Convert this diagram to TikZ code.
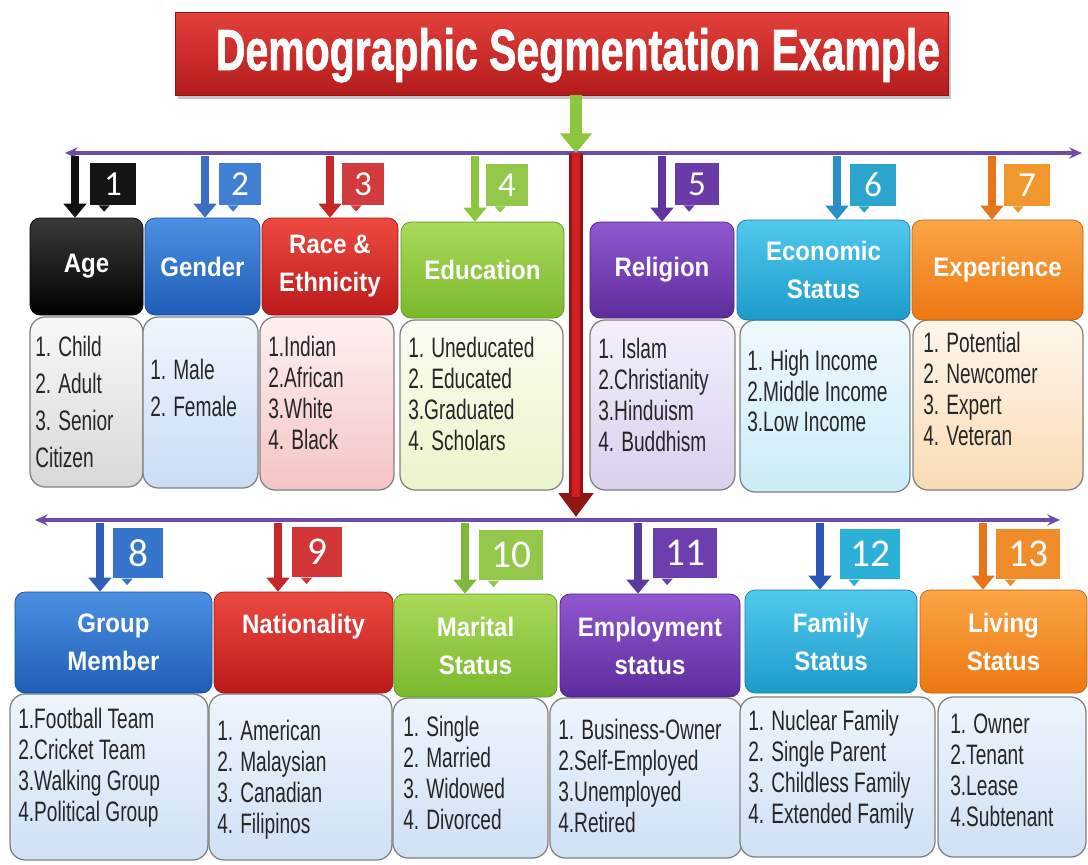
\documentclass[tikz,border=0pt]{standalone}
\usepackage{fontspec}
\usepackage{graphicx}
\setmainfont{Liberation Sans}
\newfontfamily\hdrfont{Liberation Sans}[FakeStretch=0.9]
\newfontfamily\listfont{Liberation Sans}[FakeStretch=0.68]
\newfontfamily\ttlfont{Liberation Sans}[BoldFeatures={FakeBold=1.5}]
\newfontfamily\tagfont{Carlito}
\usetikzlibrary{arrows.meta,shadows}
% title & connectors
\definecolor{ttlA}{HTML}{E4403A}\definecolor{ttlB}{HTML}{B31B1B}
\definecolor{plc}{HTML}{6E4DAA}
\definecolor{redarr}{HTML}{D21F1F}\definecolor{grnarr}{HTML}{8CC63F}
% header colours
\definecolor{blkT}{HTML}{3A3A3A}\definecolor{blkB}{HTML}{000000}
\definecolor{bluT}{HTML}{4B90E2}\definecolor{bluB}{HTML}{1F5DB8}
\definecolor{redT}{HTML}{EC4A40}\definecolor{redB}{HTML}{BC1A1A}
\definecolor{grnT}{HTML}{A9D95A}\definecolor{grnB}{HTML}{7AB92C}
\definecolor{purT}{HTML}{9058CF}\definecolor{purB}{HTML}{5D2C9C}
\definecolor{cynT}{HTML}{52C9EE}\definecolor{cynB}{HTML}{1C9BCB}
\definecolor{orgT}{HTML}{FBA546}\definecolor{orgB}{HTML}{EC7812}
% list colours
\definecolor{lgyT}{HTML}{F8F8F8}\definecolor{lgyB}{HTML}{D8D8D8}
\definecolor{lbuT}{HTML}{F0F6FD}\definecolor{lbuB}{HTML}{C9DDF5}
\definecolor{lrdT}{HTML}{FDF0F0}\definecolor{lrdB}{HTML}{F5C4C4}
\definecolor{lgnT}{HTML}{FBFDF0}\definecolor{lgnB}{HTML}{EBF4CA}
\definecolor{lpuT}{HTML}{F3EFFA}\definecolor{lpuB}{HTML}{DBCFEE}
\definecolor{lcyT}{HTML}{EFF9FD}\definecolor{lcyB}{HTML}{CBECF8}
\definecolor{lorT}{HTML}{FEF6EC}\definecolor{lorB}{HTML}{F9DBB4}
\definecolor{lbT}{HTML}{EEF5FC}\definecolor{lbB}{HTML}{CFE1F5}
% tag colours
\definecolor{tgA}{HTML}{141414}\definecolor{tgB}{HTML}{3F80D4}
\definecolor{tgC}{HTML}{D23B3B}\definecolor{tgD}{HTML}{93C84A}
\definecolor{tgE}{HTML}{6A3BA8}\definecolor{tgF}{HTML}{2BA5CE}
\definecolor{tgG}{HTML}{F0972E}\definecolor{tgH}{HTML}{3576CC}
\definecolor{tgI}{HTML}{D13535}\definecolor{tgK}{HTML}{6D3EAE}
\definecolor{tgL}{HTML}{2CB0D8}\definecolor{tgM}{HTML}{F08C2A}
% arrow colours
\definecolor{arA}{HTML}{111111}\definecolor{arB}{HTML}{3A6FC4}
\definecolor{arC}{HTML}{C62828}\definecolor{arD}{HTML}{8CC63F}
\definecolor{arE}{HTML}{5E35A0}\definecolor{arF}{HTML}{2A8FC8}
\definecolor{arG}{HTML}{E8731A}\definecolor{arH}{HTML}{2F5FB8}
\definecolor{arK}{HTML}{5B3A9E}\definecolor{arL}{HTML}{2A57B8}
\definecolor{arJ}{HTML}{7FB83A}

\newcommand\tagbox[6]{%
  \node[#4, fill=#2, minimum width=#5] (#1) at #3 {#6};
  \fill[#2] ([xshift=0.22cm]#1.south west) -- ++(0.14cm,-0.16cm) -- ++(0.14cm,0.16cm) -- cycle;}

\begin{document}
\begin{tikzpicture}[x=0.025cm, y=-0.025cm,
  box/.style n args={4}{minimum width={(#3-#1)*0.025cm}, minimum height={(#4-#2)*0.025cm},
     at={({(#1+#3)/2},{(#2+#4)/2})}},
  hdr/.style 2 args={inner sep=0pt, rounded corners=0.25cm, top color=#1, bottom color=#2,
     draw=#2!80!black, line width=0.5pt, align=center, text=white,
     font=\hdrfont\bfseries\fontsize{19}{27}\selectfont},
  lst/.style 2 args={inner sep=0pt, rounded corners=0.38cm, top color=#1, bottom color=#2,
     draw=black!50, line width=0.9pt},
  lt/.style={inner sep=0pt, anchor=west, align=left, text=black!85,
     font=\listfont\fontsize{20}{22}\selectfont},
  ltw/.style={lt, font=\listfont\fontsize{20}{26.3}\selectfont},
  ttop/.style={inner sep=0pt, text=white, minimum height=1.05cm,
     font=\tagfont\fontsize{25}{25}\selectfont},
  tbot/.style={inner sep=0pt, text=white, minimum height=1.27cm,
     font=\tagfont\fontsize{28}{28}\selectfont},
  sarr/.style={draw=#1, line width=6pt, -{Triangle[width=16pt,length=10pt]}},
  pline/.style={draw=plc, line width=2.2pt,
     {Stealth[length=9pt,width=8pt]}-{Stealth[length=9pt,width=8pt]}}
]
\useasboundingbox (0,0) rectangle (1088,864);
\fill[white] (0,0) rectangle (1088,864);

% ---------- title ----------
\node[box={175}{12}{948}{95}, inner sep=0pt, top color=ttlA, bottom color=ttlB,
      draw=ttlB!80!black, line width=0.6pt,
      drop shadow={shadow xshift=2pt, shadow yshift=-3pt, opacity=0.45}] (title) {};
\node[anchor=base, inner sep=0pt, text=white] (titletext) at (578,70)
  {\resizebox{18.1cm}{1.05cm}{\ttlfont\bfseries Demographic Segmentation Example}};

% ---------- hubs and main lines ----------
\coordinate (hubT) at (576,153);
\coordinate (hubB) at (576,517);
\coordinate (lineTL) at (65,153);
\coordinate (lineTR) at (1082,153);
\coordinate (lineBL) at (35,520);
\coordinate (lineBR) at (1060,520);
\draw[pline] (lineTL) -- (lineTR);
\draw[pline] (lineBL) -- (lineBR);
\draw[draw=redarr!70!black, line width=9.5pt, -{Triangle[width=24pt,length=17pt]}] (hubT) -- (hubB);
\draw[draw=redarr, line width=6pt] (hubT) -- ([yshift=0.5cm]hubB);
\draw[draw=grnarr, line width=9pt, -{Triangle[width=22pt,length=14pt]}] (title.south -| hubT) -- (hubT);

% ---------- top list boxes ----------
\node[lst={lgyT}{lgyB}, box={30}{317}{143}{487}] (ageL) {};
\node[lst={lbuT}{lbuB}, box={143}{317}{258}{488}] (genL) {};
\node[lst={lrdT}{lrdB}, box={260}{317}{394}{490}] (racL) {};
\node[lst={lgnT}{lgnB}, box={400}{320}{563}{490}] (eduL) {};
\node[lst={lpuT}{lpuB}, box={590}{320}{735}{490}] (relL) {};
\node[lst={lcyT}{lcyB}, box={740}{320}{910}{492}] (ecoL) {};
\node[lst={lorT}{lorB}, box={913}{320}{1083}{490}] (expL) {};

% ---------- top headers ----------
\node[hdr={blkT}{blkB}, box={30}{218}{143}{315}] (age) {Age};
\node[hdr={bluT}{bluB}, box={145}{218}{260}{315}] (gen) {Gender};
\node[hdr={redT}{redB}, box={262}{218}{398}{315}] (rac) {Race \&\\Ethnicity};
\node[hdr={grnT}{grnB}, box={401}{222}{564}{318}] (edu) {Education};
\node[hdr={purT}{purB}, box={590}{222}{734}{318}] (rel) {Religion};
\node[hdr={cynT}{cynB}, box={737}{220}{910}{320}] (eco) {Economic\\Status};
\node[hdr={orgT}{orgB}, box={912}{220}{1083}{320}] (exp) {Experience};

% ---------- top arrows ----------
\coordinate (a1) at (75,156);  \draw[sarr=arA] (a1) -- (a1 |- age.north);
\coordinate (a2) at (205,156); \draw[sarr=arB] (a2) -- (a2 |- gen.north);
\coordinate (a3) at (330,156); \draw[sarr=arC] (a3) -- (a3 |- rac.north);
\coordinate (a4) at (475,156); \draw[sarr=arD] (a4) -- (a4 |- edu.north);
\coordinate (a5) at (662,156); \draw[sarr=arE] (a5) -- (a5 |- rel.north);
\coordinate (a6) at (837,156); \draw[sarr=arF] (a6) -- (a6 |- eco.north);
\coordinate (a7) at (992,156); \draw[sarr=arG] (a7) -- (a7 |- exp.north);

% ---------- top tags ----------
\tagbox{t1}{tgA}{(113,184)}{ttop}{1.15cm}{1}
\tagbox{t2}{tgB}{(240,184)}{ttop}{1.05cm}{2}
\tagbox{t3}{tgC}{(363,184)}{ttop}{1.05cm}{3}
\tagbox{t4}{tgD}{(507,185)}{ttop}{1.05cm}{4}
\tagbox{t5}{tgE}{(697,184)}{ttop}{1.1cm}{5}
\tagbox{t6}{tgF}{(873,185)}{ttop}{1.15cm}{6}
\tagbox{t7}{tgG}{(1027,185)}{ttop}{1.15cm}{7}

% ---------- top list texts ----------
\node[ltw] (ageT) at (35,402) {1. Child\\2. Adult\\3. Senior\\Citizen};
\node[ltw] (genT) at (150,388) {1. Male\\2. Female};
\node[lt] (racT) at (268,393) {1.Indian\\2.African\\3.White\\4. Black};
\node[lt] (eduT) at (408,394) {1. Uneducated\\2. Educated\\3.Graduated\\4. Scholars};
\node[lt] (relT) at (598,395) {1. Islam\\2.Christianity\\3.Hinduism\\4. Buddhism};
\node[lt] (ecoT) at (747,391) {1. High Income\\2.Middle Income\\3.Low Income};
\node[lt] (expT) at (923,389) {1. Potential\\2. Newcomer\\3. Expert\\4. Veteran};

% ---------- bottom list boxes ----------
\node[lst={lbT}{lbB}, box={10}{694}{208}{860}] (grpL) {};
\node[lst={lbT}{lbB}, box={209}{694}{392}{860}] (natL) {};
\node[lst={lbT}{lbB}, box={393}{698}{548}{858}] (marL) {};
\node[lst={lbT}{lbB}, box={550}{698}{742}{858}] (empL) {};
\node[lst={lbT}{lbB}, box={740}{697}{935}{857}] (famL) {};
\node[lst={lbT}{lbB}, box={938}{697}{1086}{857}] (livL) {};

% ---------- bottom headers ----------
\node[hdr={bluT}{bluB}, box={15}{592}{212}{693}] (grp) {Group\\Member};
\node[hdr={redT}{redB}, box={214}{592}{393}{693}] (nat) {Nationality\\\mbox{}};
\node[hdr={grnT}{grnB}, box={394}{594}{557}{697}] (mar) {Marital\\Status};
\node[hdr={purT}{purB}, box={560}{594}{740}{697}] (emp) {Employment\\status};
\node[hdr={cynT}{cynB}, box={745}{590}{917}{693}] (fam) {Family\\Status};
\node[hdr={orgT}{orgB}, box={920}{590}{1087}{693}] (liv) {Living\\Status};

% ---------- bottom arrows ----------
\coordinate (b8) at (100,523);  \draw[sarr=arH] (b8) -- (b8 |- grp.north);
\coordinate (b9) at (278,523);  \draw[sarr=arC] (b9) -- (b9 |- nat.north);
\coordinate (b10) at (465,523); \draw[sarr=arJ] (b10) -- (b10 |- mar.north);
\coordinate (b11) at (638,523); \draw[sarr=arK] (b11) -- (b11 |- emp.north);
\coordinate (b12) at (820,523); \draw[sarr=arL] (b12) -- (b12 |- fam.north);
\coordinate (b13) at (983,523); \draw[sarr=arG] (b13) -- (b13 |- liv.north);

% ---------- bottom tags ----------
\tagbox{t8}{tgH}{(138,553)}{tbot}{1.25cm}{8}
\tagbox{t9}{tgI}{(317,552)}{tbot}{1.23cm}{9}
\tagbox{t10}{tgD}{(511,555)}{tbot}{1.58cm}{10}
\tagbox{t11}{tgK}{(685,553)}{tbot}{1.6cm}{11}
\tagbox{t12}{tgL}{(870,554)}{tbot}{1.5cm}{12}
\tagbox{t13}{tgM}{(1028,554)}{tbot}{1.58cm}{13}

% ---------- bottom list texts ----------
\node[lt] (grpT) at (18,768) {1.Football Team\\2.Cricket Team\\3.Walking Group\\4.Political Group};
\node[lt] (natT) at (217,780) {1. American\\2. Malaysian\\3. Canadian\\4. Filipinos};
\node[lt] (marT) at (403,773) {1. Single\\2. Married\\3. Widowed\\4. Divorced};
\node[lt] (empT) at (558,776) {1. Business-Owner\\2.Self-Employed\\3.Unemployed\\4.Retired};
\node[lt] (famT) at (748,770) {1. Nuclear Family\\2. Single Parent\\3. Childless Family\\4. Extended Family};
\node[lt] (livT) at (950,770) {1. Owner\\2.Tenant\\3.Lease\\4.Subtenant};
\end{tikzpicture}
\end{document}
